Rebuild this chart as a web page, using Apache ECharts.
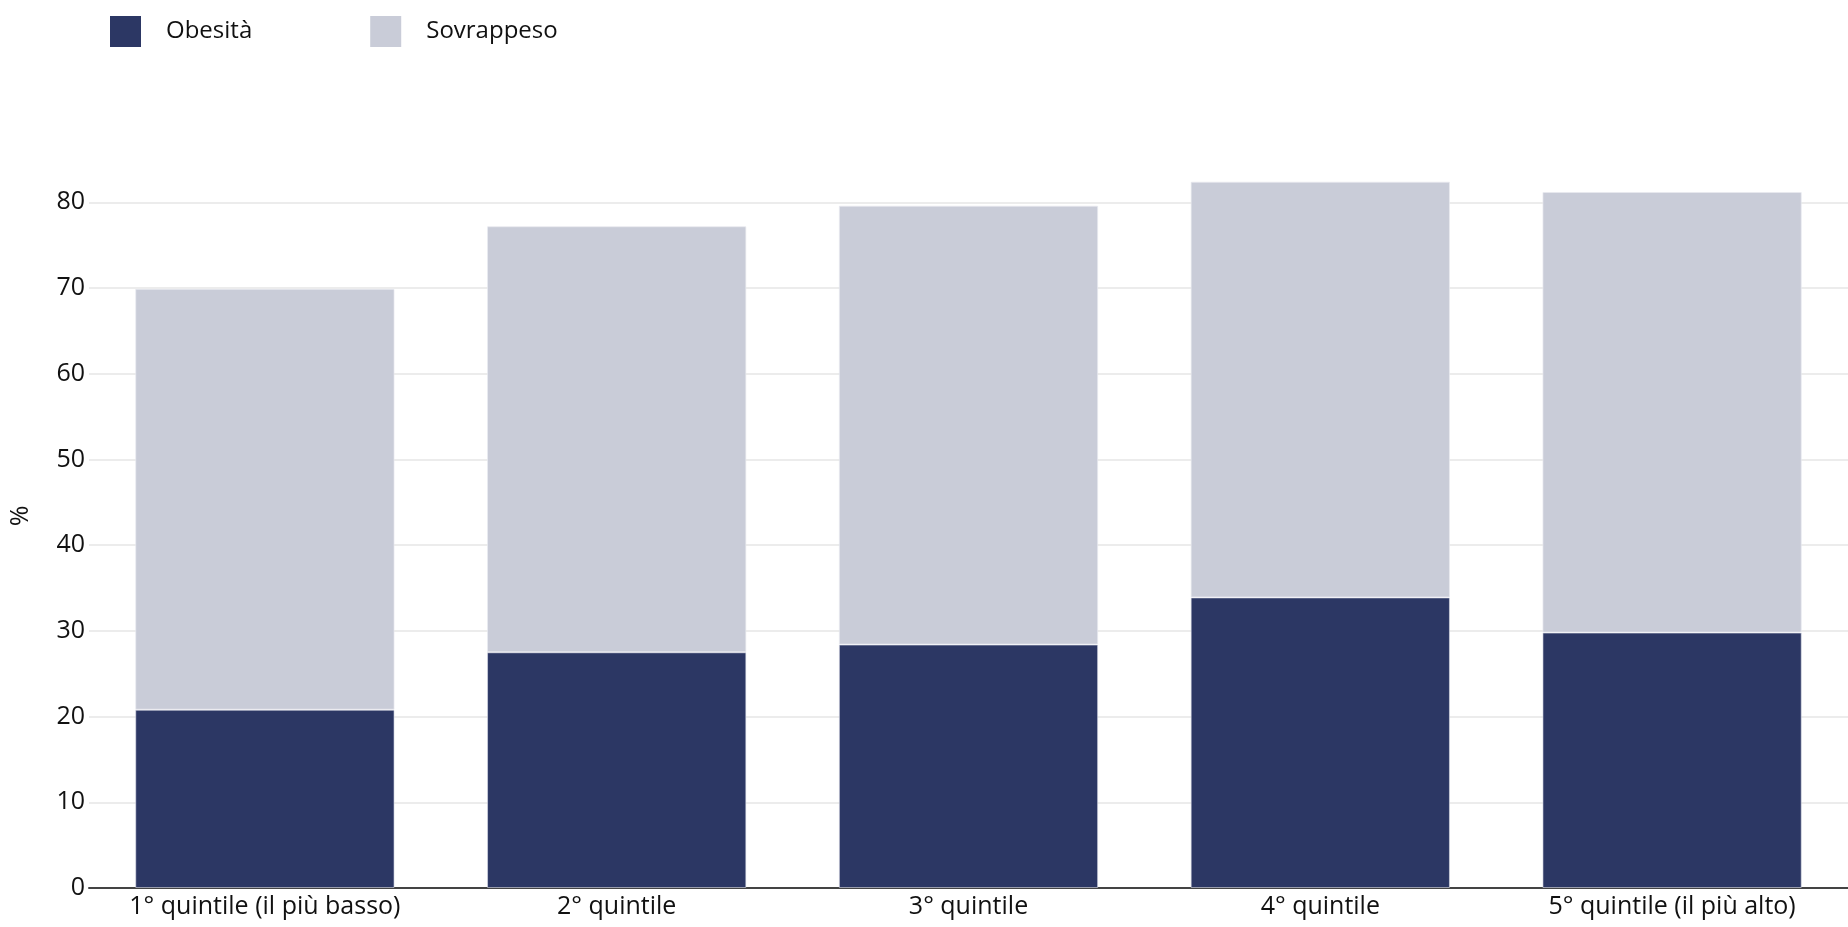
<!DOCTYPE html>
<html>
<head>
<meta charset="utf-8">
<script src="https://cdn.jsdelivr.net/npm/echarts@6/dist/echarts.min.js"></script>
<style>
  html, body { margin: 0; padding: 0; background: #fff; }
  #chart { width: 1848px; height: 927px; }
</style>
</head>
<body>
<div id="chart"></div>
<script>
const categories = ['1° quintile (il più basso)', '2° quintile', '3° quintile', '4° quintile', '5° quintile (il più alto)'];
const obesita = [20.8, 27.5, 28.4, 33.9, 29.8];
const sovrappeso = [49.1, 49.7, 51.2, 48.5, 51.4];
const seriesNames = ['Obesità', 'Sovrappeso'];
const yTicks = [0, 10, 20, 30, 40, 50, 60, 70, 80];

const FONT = 'Open Sans';
const FS = 25;
const chart = echarts.init(document.getElementById('chart'));
chart.setOption({
  animation: false,
  textStyle: { fontFamily: FONT },
  legend: {
    left: 105, top: 11,
    icon: 'rect',
    itemWidth: 31, itemHeight: 31,
    itemGap: 118,
    itemStyle: { borderWidth: 0 },
    textStyle: { fontFamily: FONT, fontSize: 24, color: '#111', padding: [0, 0, 0, 20] },
    data: seriesNames
  },
  grid: { left: 79, right: -14, top: 144, bottom: 39, containLabel: false },
  xAxis: {
    type: 'category',
    data: categories,
    axisTick: { show: false },
    axisLine: { show: true, lineStyle: { color: '#444', width: 2 } },
    axisLabel: { fontFamily: FONT, fontSize: FS, color: '#111', margin: 6, interval: 0, hideOverlap: false }
  },
  yAxis: {
    type: 'value',
    min: 0, max: 86.8, interval: 10,
    name: '%',
    nameLocation: 'middle',
    nameGap: 56,
    nameTextStyle: { fontFamily: FONT, fontSize: FS, color: '#111' },
    axisLine: { show: false },
    axisTick: { show: false },
    axisLabel: {
      fontFamily: FONT, fontSize: FS, color: '#111', margin: 4,
      showMaxLabel: false,
      formatter: v => (yTicks.indexOf(v) >= 0 ? String(v) : '')
    },
    splitLine: { show: true, showMaxLine: false, lineStyle: { color: '#ececec', width: 2 } }
  },
  series: [
    {
      name: seriesNames[0], type: 'bar', stack: 'tot', data: obesita,
      barCategoryGap: '26.3%',
      itemStyle: { color: '#2c3764', borderColor: 'rgba(220,222,232,0.6)', borderWidth: 1 }
    },
    {
      name: seriesNames[1], type: 'bar', stack: 'tot', data: sovrappeso,
      barCategoryGap: '26.3%',
      itemStyle: { color: '#c9ccd8', borderColor: 'rgba(232,233,240,0.7)', borderWidth: 1 }
    }
  ]
});
</script>
</body>
</html>
